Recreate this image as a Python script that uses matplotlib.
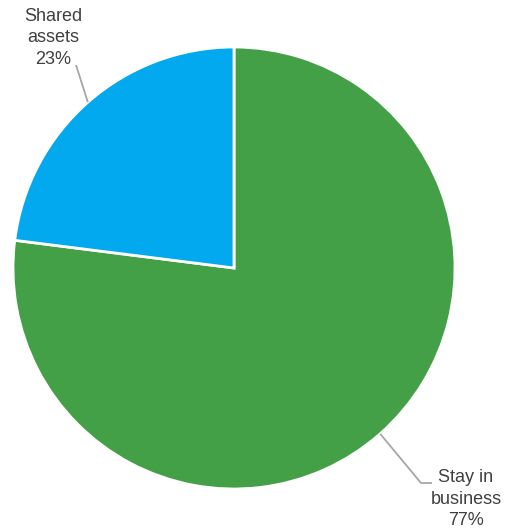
import matplotlib
matplotlib.use("Agg")
import matplotlib.pyplot as plt
import numpy as np

labels = ["Stay in\nbusiness", "Shared\nassets"]
values = [77, 23]
colors = ["#43A047", "#03A9EE"]

W, H = 515, 531
fig = plt.figure(figsize=(W / 100, H / 100), dpi=100)
ax = fig.add_axes([0, 0, 1, 1])
ax.set_xlim(0, W)
ax.set_ylim(0, H)
ax.set_aspect("equal")
ax.axis("off")

cx, cy, r = 234, H - 268, 221
wedges, _ = ax.pie(values, colors=colors, startangle=90, counterclock=False,
                   center=(cx, cy), radius=r,
                   wedgeprops=dict(edgecolor="white", linewidth=2))
ax.set_xlim(0, W)
ax.set_ylim(0, H)

# label positions (text centre) and elbow points, image coordinates
text_pos = [(466, 499), (53, 38)]
elbows = [[(421, 483), (432, 483)], [(76, 65)]]

for w, lab, val, tp, el in zip(wedges, labels, values, text_pos, elbows):
    ang = np.deg2rad((w.theta1 + w.theta2) / 2)
    x0, y0 = cx + r * np.cos(ang), cy + r * np.sin(ang)
    xs = [x0] + [p[0] for p in el]
    ys = [y0] + [H - p[1] for p in el]
    ax.plot(xs, ys, color="#a6a6a6", lw=1.3, solid_capstyle="butt")
    ax.text(tp[0], H - tp[1], f"{lab}\n{val}%", ha="center", va="center",
            fontsize=13, color="#404040", family="Liberation Sans",
            linespacing=1.35)

fig.savefig("out.png", dpi=100)
